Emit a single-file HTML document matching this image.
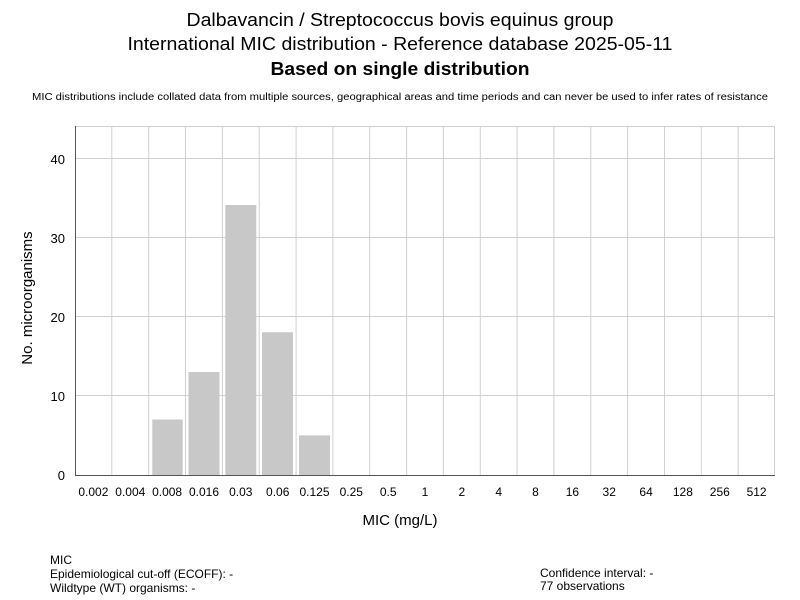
<!DOCTYPE html>
<html><head><meta charset="utf-8"><style>body{margin:0;background:#fff}svg{display:block}text{font-family:"Liberation Sans",sans-serif;fill:#000}</style></head><body>
<svg width="800" height="600" xmlns="http://www.w3.org/2000/svg">
<text x="400" y="26" font-size="18" text-anchor="middle" textLength="427" lengthAdjust="spacingAndGlyphs">Dalbavancin / Streptococcus bovis equinus group</text>
<text x="400" y="50" font-size="18" text-anchor="middle" textLength="545" lengthAdjust="spacingAndGlyphs">International MIC distribution - Reference database 2025-05-11</text>
<text x="400" y="75" font-size="18" font-weight="bold" text-anchor="middle" textLength="259" lengthAdjust="spacingAndGlyphs">Based on single distribution</text>
<text x="400" y="100" font-size="10" text-anchor="middle" textLength="736" lengthAdjust="spacingAndGlyphs">MIC distributions include collated data from multiple sources, geographical areas and time periods and can never be used to infer rates of resistance</text>
<g stroke="#d0d0d0" stroke-width="1">
<line x1="75" y1="126.5" x2="775" y2="126.5"/>
<line x1="75" y1="158.5" x2="775" y2="158.5"/>
<line x1="75" y1="237.5" x2="775" y2="237.5"/>
<line x1="75" y1="316.5" x2="775" y2="316.5"/>
<line x1="75" y1="395.5" x2="775" y2="395.5"/>
<line x1="111.8" y1="126" x2="111.8" y2="475"/><line x1="148.7" y1="126" x2="148.7" y2="475"/><line x1="185.5" y1="126" x2="185.5" y2="475"/><line x1="222.4" y1="126" x2="222.4" y2="475"/><line x1="259.2" y1="126" x2="259.2" y2="475"/><line x1="296.1" y1="126" x2="296.1" y2="475"/><line x1="332.9" y1="126" x2="332.9" y2="475"/><line x1="369.7" y1="126" x2="369.7" y2="475"/><line x1="406.6" y1="126" x2="406.6" y2="475"/><line x1="443.4" y1="126" x2="443.4" y2="475"/><line x1="480.3" y1="126" x2="480.3" y2="475"/><line x1="517.1" y1="126" x2="517.1" y2="475"/><line x1="553.9" y1="126" x2="553.9" y2="475"/><line x1="590.8" y1="126" x2="590.8" y2="475"/><line x1="627.6" y1="126" x2="627.6" y2="475"/><line x1="664.5" y1="126" x2="664.5" y2="475"/><line x1="701.3" y1="126" x2="701.3" y2="475"/><line x1="738.2" y1="126" x2="738.2" y2="475"/><line x1="774.5" y1="126" x2="774.5" y2="475"/>
</g>
<g fill="#c8c8c8">
<rect x="152.3" y="419.5" width="30.4" height="55.5"/>
<rect x="188.5" y="372" width="31" height="103"/>
<rect x="225.3" y="205" width="31" height="270"/>
<rect x="262" y="332.3" width="31" height="142.7"/>
<rect x="299" y="435.4" width="31" height="39.6"/>
</g>
<line x1="75.5" y1="126" x2="75.5" y2="475" stroke="#555"/>
<line x1="75" y1="475.5" x2="775" y2="475.5" stroke="#555"/>
<g font-size="13" text-anchor="end">
<text x="65" y="480">0</text><text x="65" y="401">10</text><text x="65" y="322">20</text><text x="65" y="243">30</text><text x="65" y="164">40</text>
</g>
<g font-size="12" text-anchor="middle">
<text x="93.4" y="496">0.002</text><text x="130.3" y="496">0.004</text><text x="167.1" y="496">0.008</text><text x="204" y="496">0.016</text><text x="240.8" y="496">0.03</text><text x="277.7" y="496">0.06</text><text x="314.5" y="496">0.125</text><text x="351.3" y="496">0.25</text><text x="388.2" y="496">0.5</text><text x="425" y="496">1</text><text x="461.9" y="496">2</text><text x="498.7" y="496">4</text><text x="535.5" y="496">8</text><text x="572.4" y="496">16</text><text x="609.2" y="496">32</text><text x="646.1" y="496">64</text><text x="682.9" y="496">128</text><text x="719.8" y="496">256</text><text x="756.6" y="496">512</text>
</g>
<text x="400" y="525" font-size="15" text-anchor="middle">MIC (mg/L)</text>
<text transform="translate(32,298) rotate(-90)" font-size="15" text-anchor="middle">No. microorganisms</text>
<g font-size="12">
<text x="50" y="564">MIC</text>
<text x="50" y="578">Epidemiological cut-off (ECOFF): -</text>
<text x="50" y="592">Wildtype (WT) organisms:  -</text>
<text x="540" y="577">Confidence interval: -</text>
<text x="540" y="590">77 observations</text>
</g>
</svg>
</body></html>
